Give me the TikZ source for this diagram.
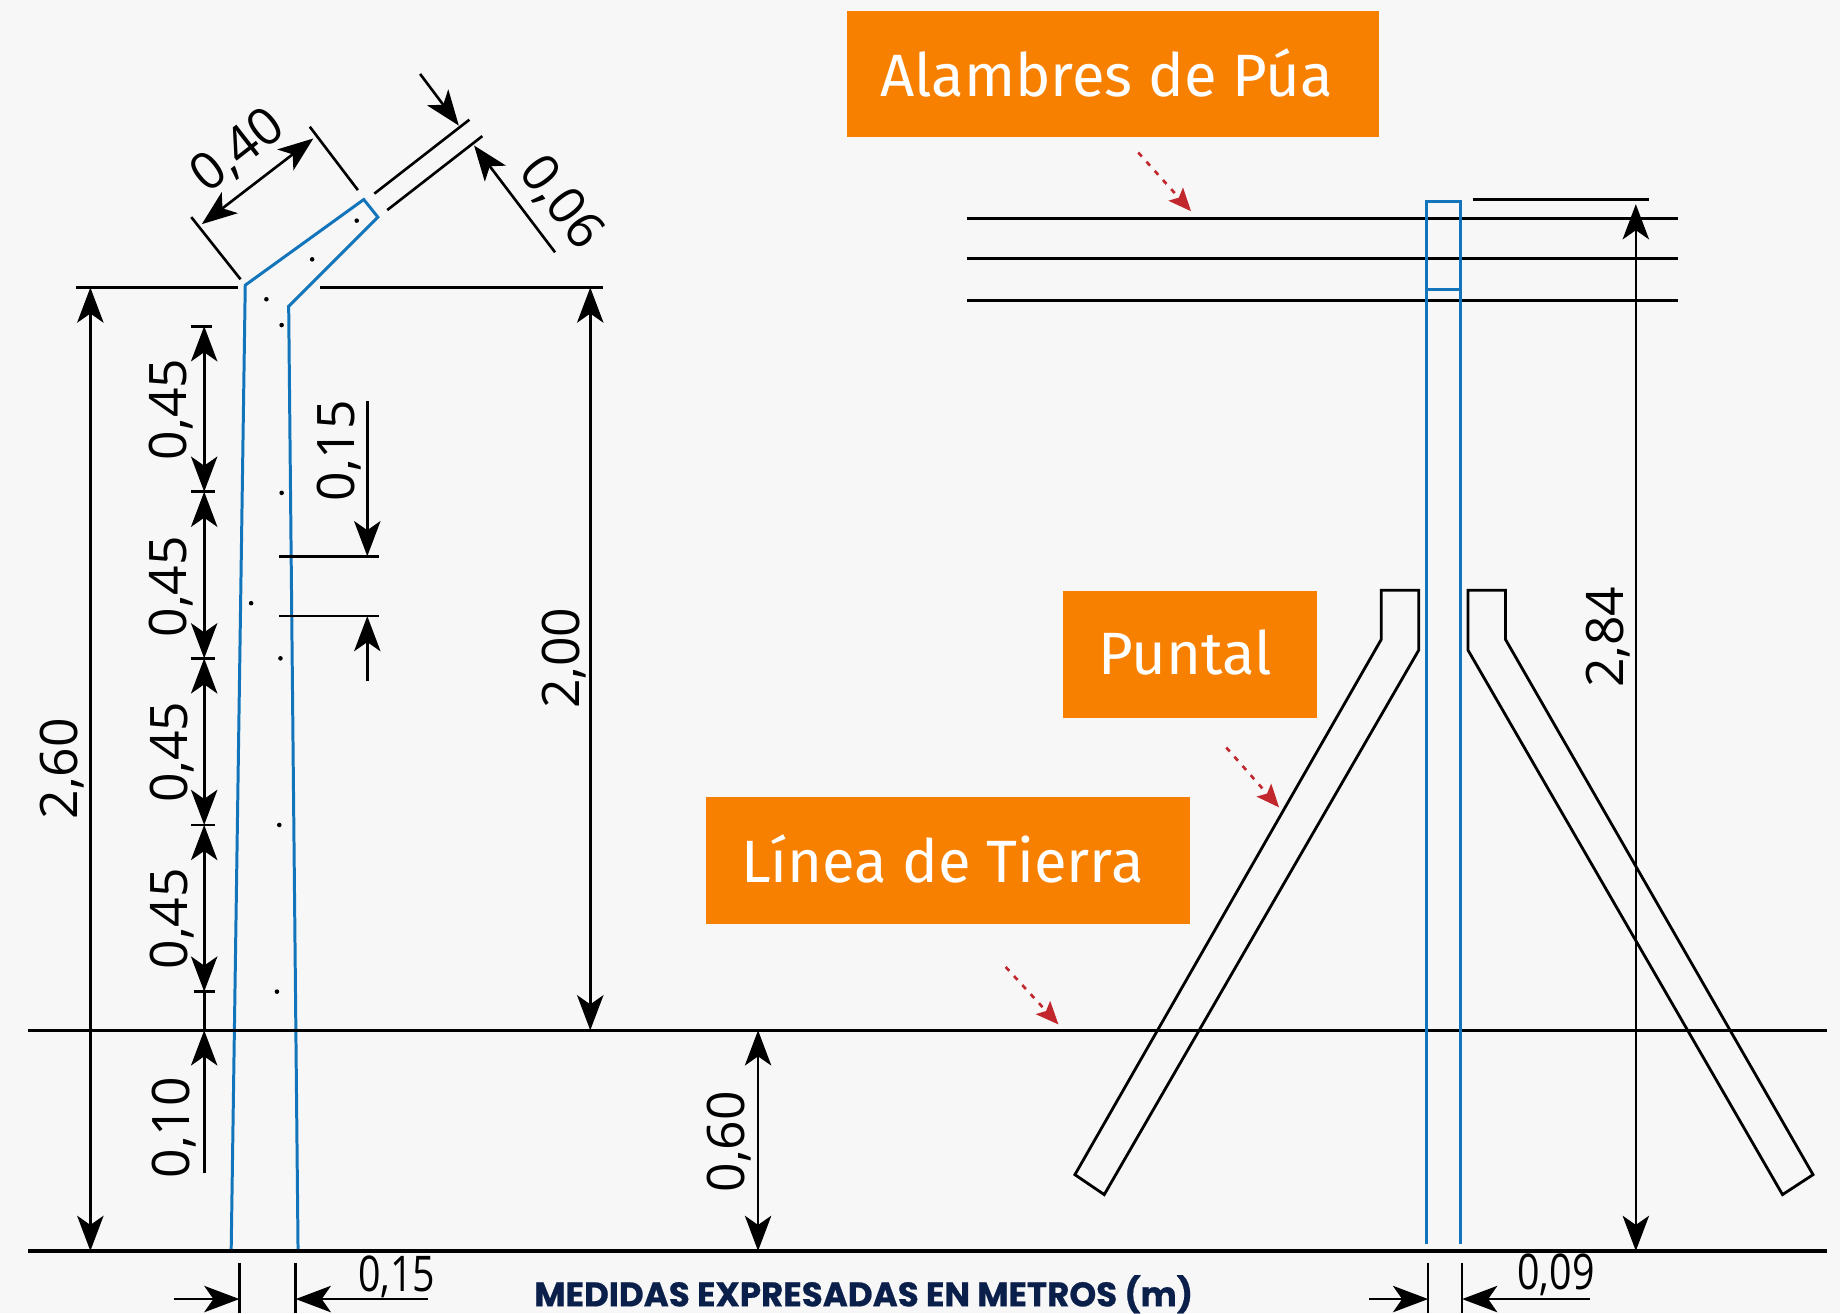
\documentclass[tikz,border=0pt]{standalone}
\usepackage{fontspec}
\setmainfont{Open Sans}
\newfontfamily\boxfont{Fira Sans}
\newfontfamily\notefont[BoldFeatures={FakeBold=0.7}]{Poppins}
\usetikzlibrary{arrows.meta}
\definecolor{bgcolor}{HTML}{F7F7F7}
\definecolor{boxcolor}{HTML}{F88000}
\definecolor{postcolor}{HTML}{1275BC}
\definecolor{pointercolor}{HTML}{C1272D}
\definecolor{notecolor}{HTML}{0B1F4B}
\tikzset{
	dimline/.style={line width=0.75pt, {Stealth[length=10pt,width=7.5pt,inset=2.6pt]}-{Stealth[length=10pt,width=7.5pt,inset=2.6pt]}},
	dimhead/.style={line width=0.75pt, -{Stealth[length=10pt,width=7.5pt,inset=2.6pt]}},
	extline/.style={line width=0.75pt},
	refline/.style={line width=0.9pt},
	postline/.style={line width=0.85pt, color=postcolor},
	strutline/.style={line width=0.8pt, line join=miter},
	pointer/.style={line width=0.75pt, color=pointercolor, dash pattern=on 1.5pt off 2pt, -{Stealth[length=6.5pt,width=5.5pt,inset=1.3pt]}},
	dimlabel/.style={font=\fontsize{14.7}{16}\selectfont, inner sep=0pt},
	smalllabel/.style={font=\fontsize{14}{15}\selectfont, inner sep=0pt, xscale=0.8},
	tagbox/.style={text=white, font=\boxfont\fontsize{17}{20}\selectfont, inner sep=0pt, anchor=center},
	speck/.style={fill=black, radius=0.65pt}
}

\begin{document}
\begin{tikzpicture}[x=0.011735cm, y=-0.011735cm]
	%%%%% START %%%%%
	\useasboundingbox (0, 0) rectangle (1568, 1119);
	\fill[bgcolor] (0, 0) rectangle (1568, 1119);

	% left post
	\draw[postline] (197, 1066) -- (209, 243) -- (310, 170) -- (322, 185) -- (246, 261) -- (254, 1066);
	\fill[speck] (227, 255) circle;
	\fill[speck] (240, 277) circle;
	\fill[speck] (240, 420) circle;
	\fill[speck] (214, 514) circle;
	\fill[speck] (239, 561) circle;
	\fill[speck] (238, 703) circle;
	\fill[speck] (236, 845) circle;
	\fill[speck] (266, 221) circle;
	\fill[speck] (304, 188) circle;

	% ground lines
	\draw[refline] (24, 878) -- (1557, 878);
	\draw[refline] (24, 1066) -- (1557, 1066);
	\draw[refline] (65, 245) -- (203, 245);
	\draw[refline] (273, 245) -- (514, 245);

	% top of the left post
	\draw[extline] (163, 185) -- (205, 238);
	\draw[extline] (264, 108) -- (305, 162);
	\draw[dimline] (172, 191) -- (267, 118);
	\node[dimlabel, rotate=38] (lblforty) at (203, 129) {0,40};
	\draw[extline] (319, 165) -- (400, 102);
	\draw[extline] (330, 179) -- (411, 116);
	\draw[dimhead] (358, 63) -- (391, 107);
	\draw[dimhead] (473, 215) -- (404, 124);
	\node[dimlabel, rotate=-52] (lblsix) at (478, 173) {0,06};

	% heights of the left post
	\draw[dimline] (77, 245) -- (77, 1066);
	\node[dimlabel, rotate=90] (lbltwosixty) at (53, 655) {2,60};
	\draw[dimline] (503, 245) -- (503, 878);
	\node[dimlabel, rotate=90] (lbltwo) at (481, 561) {2,00};
	\draw[dimline] (646, 878) -- (646, 1066);
	\node[dimlabel, rotate=90] (lblsixty) at (621, 973) {0,60};

	% spacing of the wires
	\draw[extline] (163, 278) -- (181, 278);
	\draw[extline] (163, 419) -- (183, 419);
	\draw[extline] (163, 561) -- (183, 561);
	\draw[extline] (163, 703) -- (183, 703);
	\draw[extline] (165, 845) -- (183, 845);
	\draw[dimline] (174, 278) -- (174, 419);
	\draw[dimline] (174, 419) -- (174, 561);
	\draw[dimline] (174, 561) -- (174, 703);
	\draw[dimline] (174, 703) -- (174, 845);
	\draw[extline] (174, 845) -- (174, 878);
	\draw[dimhead] (174, 1000) -- (174, 878);
	\node[dimlabel, rotate=90] (lblgapa) at (146, 349) {0,45};
	\node[dimlabel, rotate=90] (lblgapb) at (146, 500) {0,45};
	\node[dimlabel, rotate=90] (lblgapc) at (147, 641) {0,45};
	\node[dimlabel, rotate=90] (lblgapd) at (147, 783) {0,45};
	\node[dimlabel, rotate=90] (lblten) at (148, 961) {0,10};

	% small gap beside the post
	\draw[extline] (238, 474) -- (323, 474);
	\draw[extline] (238, 525) -- (323, 525);
	\draw[dimhead] (313, 342) -- (313, 474);
	\draw[dimhead] (313, 580) -- (313, 525);
	\node[dimlabel, rotate=90] (lblfifteen) at (289, 384) {0,15};

	% width of the left post
	\draw[extline] (204, 1076) -- (204, 1119);
	\draw[extline] (252, 1076) -- (252, 1119);
	\draw[dimhead] (148, 1107) -- (204, 1107);
	\draw[dimhead] (365, 1107) -- (252, 1107);
	\node[smalllabel] (lblwidth) at (338, 1088) {0,15};

	% wires
	\draw[refline] (824, 186) -- (1430, 186);
	\draw[refline] (824, 220) -- (1430, 220);
	\draw[refline] (824, 256) -- (1430, 256);

	% right post
	\draw[postline] (1216, 1060) -- (1216, 172) -- (1245, 172) -- (1245, 1060);
	\draw[postline] (1216, 247) -- (1245, 247);
	\draw[refline] (1255, 170) -- (1405, 170);
	\draw[dimline] (1394, 174) -- (1394, 1066);
	\node[dimlabel, rotate=90] (lblheight) at (1370, 543) {2,84};

	% struts
	\draw[strutline] (1177, 503) -- (1209, 503) -- (1209, 554) -- (941, 1018) -- (916, 1001) -- (1177, 545) -- cycle;
	\draw[strutline] (1251, 503) -- (1283, 503) -- (1283, 545) -- (1545, 1001) -- (1519, 1018) -- (1251, 554) -- cycle;

	% width of the right post
	\draw[extline] (1217, 1076) -- (1217, 1119);
	\draw[extline] (1246, 1076) -- (1246, 1119);
	\draw[dimhead] (1167, 1107) -- (1217, 1107);
	\draw[dimhead] (1355, 1107) -- (1246, 1107);
	\node[smalllabel] (lblthick) at (1326, 1086) {0,09};

	% tags
	\fill[boxcolor] (722, 9) rectangle (1175, 117);
	\node[tagbox] (tagwire) at (943, 62) {Alambres de Púa};
	\fill[boxcolor] (906, 504) rectangle (1122, 612);
	\node[tagbox] (tagstrut) at (1010, 556) {Puntal};
	\fill[boxcolor] (602, 679) rectangle (1014, 787);
	\node[tagbox] (tagground) at (803, 732) {Línea de Tierra};

	\draw[pointer] (970, 130) -- (1015, 180);
	\draw[pointer] (1045, 637) -- (1090, 688);
	\draw[pointer] (857, 824) -- (902, 873);

	\node[inner sep=0pt, text=notecolor, font=\notefont\bfseries\fontsize{9.7}{11}\selectfont] (lblnote) at (736, 1103) {MEDIDAS EXPRESADAS EN METROS (m)};
	%%%%% END %%%%%
\end{tikzpicture}
\end{document}
